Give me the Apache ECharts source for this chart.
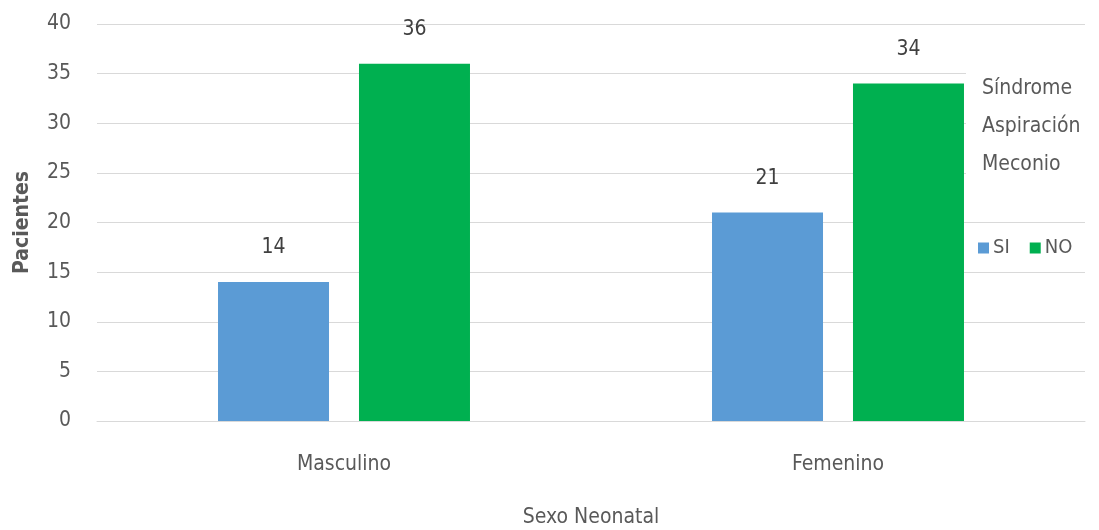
<!DOCTYPE html>
<html>
<head>
<meta charset="utf-8">
<script src="https://cdn.jsdelivr.net/npm/echarts@6/dist/echarts.min.js"></script>
<style>
  html, body { margin: 0; padding: 0; background: #fff; }
  #chart { width: 1099px; height: 530px; }
</style>
</head>
<body>
<div id="chart"></div>
<script>
// Pacientes por sexo neonatal, con y sin síndrome de aspiración de meconio
const categories = ['Masculino', 'Femenino'];
const siValues = [14, 21];
const noValues = [36, 34];
const yTicks = { min: 0, max: 40, interval: 5 };

const FONT = '"Liberation Sans Narrow", "DejaVu Sans Condensed", "Noto Sans", sans-serif';
const TEXT = '#595959';

const chart = echarts.init(document.getElementById('chart'), null, { renderer: 'canvas' });

const barLabel = {
  show: true,
  position: 'top',
  distance: 24,
  color: '#404040',
  fontFamily: FONT,
  fontSize: 21
};

chart.setOption({
  animation: false,
  backgroundColor: '#fff',
  textStyle: { fontFamily: FONT },
  grid: { left: 97, right: 14, top: 24, bottom: 109, outerBoundsMode: 'none', containLabel: false },
  title: {
    text: 'Síndrome\nAspiración\nMeconio',
    left: 966,
    top: 66,
    backgroundColor: '#fff',
    padding: [4, 20, 14, 16],
    textStyle: {
      fontFamily: FONT,
      fontSize: 21,
      fontWeight: 'normal',
      color: TEXT,
      lineHeight: 38
    }
  },
  legend: {
    data: ['SI', 'NO'],
    left: 973,
    top: 233,
    icon: 'rect',
    itemWidth: 11,
    itemHeight: 11,
    itemGap: 20,
    textStyle: { fontFamily: FONT, fontSize: 20, color: TEXT, padding: [0, 0, 0, -1] }
  },
  xAxis: {
    type: 'category',
    data: categories,
    name: 'Sexo Neonatal',
    nameLocation: 'middle',
    nameGap: 86,
    nameTextStyle: { fontFamily: FONT, fontSize: 21, color: TEXT },
    axisLine: { lineStyle: { color: '#d9d9d9', width: 1 } },
    axisTick: { show: false },
    axisLabel: { fontFamily: FONT, fontSize: 21, color: TEXT, margin: 33 }
  },
  yAxis: {
    type: 'value',
    min: yTicks.min,
    max: yTicks.max,
    interval: yTicks.interval,
    name: 'Pacientes',
    nameLocation: 'middle',
    nameGap: 64,
    nameTextStyle: { fontFamily: FONT, fontSize: 21, color: TEXT, fontWeight: 'bold' },
    axisLine: { show: false },
    axisTick: { show: false },
    axisLabel: { fontFamily: FONT, fontSize: 21, color: TEXT, margin: 26 },
    splitLine: { lineStyle: { color: '#d9d9d9', width: 1 } }
  },
  series: [
    {
      name: 'SI',
      type: 'bar',
      data: siValues,
      barWidth: 111,
      barGap: '27%',
      itemStyle: { color: '#5B9BD5' },
      label: barLabel,
      z: 1
    },
    {
      name: 'NO',
      type: 'bar',
      data: noValues,
      barWidth: 111,
      itemStyle: { color: '#00B050' },
      label: barLabel,
      z: 1
    }
  ]
});
</script>
</body>
</html>
